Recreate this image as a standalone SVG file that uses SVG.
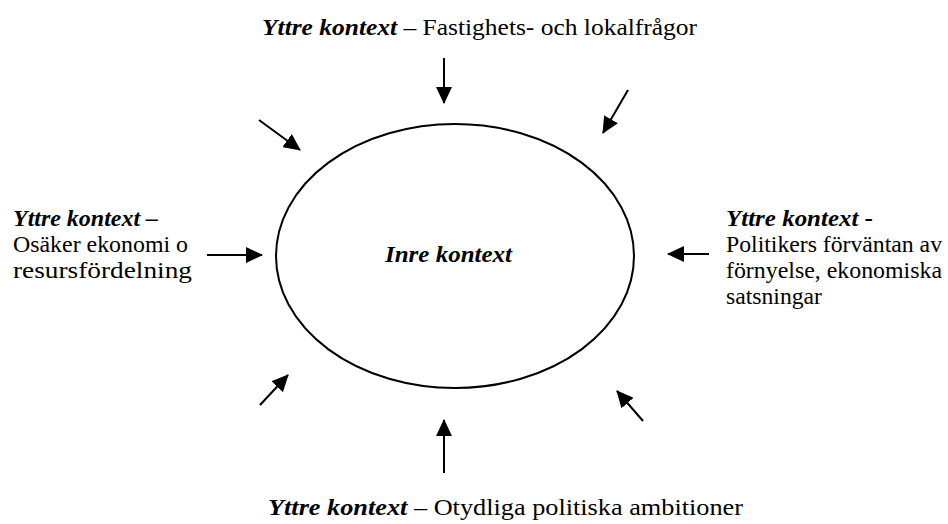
<svg xmlns="http://www.w3.org/2000/svg" width="948" height="524" viewBox="0 0 948 524">
  <style>
    text { font-family: "Liberation Serif", "Times New Roman", serif; font-size: 24px; fill: #000; }
    .em { font-weight: bold; font-style: italic; }
    .arrow { stroke: #000; stroke-width: 2; fill: none; marker-end: url(#head); }
    .ring { fill: #fff; stroke: #000; stroke-width: 2; }
  </style>
  <defs>
    <marker id="head" markerUnits="userSpaceOnUse" markerWidth="17" markerHeight="16" refX="16" refY="8" orient="auto">
      <path d="M0,0 L17,8 L0,16 z" fill="#000"/>
    </marker>
  </defs>
  <rect width="948" height="524" fill="#fff"/>

  <!-- central node -->
  <g id="inre">
    <ellipse class="ring" cx="455" cy="256" rx="179" ry="132"/>
    <text x="385" y="262" class="em" textLength="127" lengthAdjust="spacingAndGlyphs">Inre kontext</text>
  </g>

  <!-- surrounding contexts -->
  <g id="yttre-top">
    <text x="262" y="35" textLength="435" lengthAdjust="spacingAndGlyphs"><tspan class="em">Yttre kontext</tspan> – Fastighets- och lokalfrågor</text>
  </g>
  <g id="yttre-left">
    <text x="13" y="226" class="em" textLength="145" lengthAdjust="spacingAndGlyphs">Yttre kontext –</text>
    <text x="13" y="252" textLength="175" lengthAdjust="spacingAndGlyphs">Osäker ekonomi o</text>
    <text x="13" y="278" textLength="179" lengthAdjust="spacingAndGlyphs">resursfördelning</text>
  </g>
  <g id="yttre-right">
    <text x="726" y="226" class="em" textLength="147" lengthAdjust="spacingAndGlyphs">Yttre kontext -</text>
    <text x="726" y="252" textLength="216" lengthAdjust="spacingAndGlyphs">Politikers förväntan av</text>
    <text x="726" y="278" textLength="216" lengthAdjust="spacingAndGlyphs">förnyelse, ekonomiska</text>
    <text x="726" y="304" textLength="96" lengthAdjust="spacingAndGlyphs">satsningar</text>
  </g>
  <g id="yttre-bottom">
    <text x="268" y="515" textLength="475" lengthAdjust="spacingAndGlyphs"><tspan class="em">Yttre kontext</tspan> – Otydliga politiska ambitioner</text>
  </g>

  <!-- influence arrows pointing inwards -->
  <g id="connectors">
    <line class="arrow" x1="444" y1="58" x2="444" y2="103"/>
    <line class="arrow" x1="628" y1="90" x2="603" y2="133"/>
    <line class="arrow" x1="259" y1="120" x2="300" y2="150"/>
    <line class="arrow" x1="207" y1="255" x2="262" y2="255"/>
    <line class="arrow" x1="709" y1="254" x2="668" y2="254"/>
    <line class="arrow" x1="260" y1="405" x2="288" y2="375"/>
    <line class="arrow" x1="643" y1="421" x2="617" y2="391"/>
    <line class="arrow" x1="444" y1="473" x2="444" y2="420"/>
  </g>
</svg>
